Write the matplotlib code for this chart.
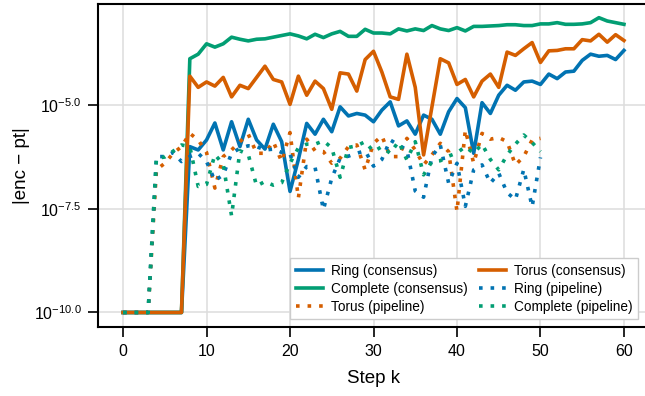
import matplotlib
matplotlib.use("Agg")
import matplotlib.pyplot as plt
import numpy as np

plt.rcParams["font.family"] = ["Liberation Sans", "DejaVu Sans"]
plt.rcParams["mathtext.default"] = "regular"

# ---------------------------------------------------------------
# values are log10 |enc - pt|
# ---------------------------------------------------------------
steps_cons = list(range(0, 61))
steps_pipe = list(range(0, 51))

ring_cons = [-10, -10, -10, -10, -10, -10, -10, -10,
             -6.00, -6.08, -5.84, -5.43, -6.08, -5.40, -6.00, -5.34, -5.84, -6.06,
             -5.46, -5.88, -7.08, -6.31, -5.44, -5.70, -5.34, -5.64, -5.04, -5.26,
             -5.20, -5.24, -5.40, -5.12, -4.92, -5.50, -5.38, -5.70, -5.24, -5.34,
             -5.70, -5.16, -4.84, -5.06, -6.16, -4.94, -5.20, -4.76, -4.52, -4.64,
             -4.44, -4.42, -4.50, -4.25, -4.36, -4.20, -4.18, -3.92, -3.77, -3.82,
             -3.80, -3.90, -3.68]
torus_cons = [-10, -10, -10, -10, -10, -10, -10, -10,
              -4.30, -4.57, -4.44, -4.54, -4.33, -4.80, -4.52, -4.60, -4.33, -4.06,
              -4.38, -4.44, -4.98, -4.30, -4.76, -4.42, -4.60, -5.10, -4.22, -4.25,
              -4.66, -3.90, -3.70, -4.20, -4.80, -4.86, -3.77, -4.57, -6.20, -5.04,
              -3.88, -3.98, -4.50, -4.38, -4.80, -4.42, -4.25, -4.57, -3.72, -3.80,
              -3.64, -3.49, -3.97, -3.69, -3.68, -3.64, -3.64, -3.42, -3.45, -3.29,
              -3.48, -3.30, -3.44]
complete_cons = [-10, -10, -10, -10, -10, -10, -10, -10,
                 -3.88, -3.77, -3.52, -3.60, -3.52, -3.36, -3.41, -3.45, -3.41, -3.40,
                 -3.36, -3.32, -3.28, -3.33, -3.40, -3.29, -3.37, -3.28, -3.22, -3.34,
                 -3.34, -3.17, -3.26, -3.26, -3.28, -3.16, -3.21, -3.16, -3.20, -3.08,
                 -3.16, -3.20, -3.13, -3.21, -3.10, -3.10, -3.09, -3.08, -3.06, -3.06,
                 -3.08, -3.08, -3.04, -3.04, -3.01, -3.05, -3.05, -3.04, -3.01, -2.89,
                 -2.97, -3.01, -3.05]

ring_pipe = [-10, -10, -10, -10,
             -6.24, -6.24, -6.14, -6.36, -6.24, -6.16, -6.36, -6.82, -6.68, -6.16,
             -6.04, -5.98, -6.00, -6.08, -6.06, -6.14, -6.18, -6.74, -6.48, -6.50,
             -7.52, -6.76, -6.28, -6.23, -6.16, -6.10, -6.47, -6.31, -5.84, -5.96,
             -6.08, -7.07, -7.22, -6.24, -5.96, -6.88, -6.40, -7.44, -6.56, -6.44,
             -6.88, -6.64, -7.11, -7.28, -6.55, -7.45, -6.26]
torus_pipe = [-10, -10, -10, -10,
              -6.56, -6.40, -6.16, -6.00, -5.68, -5.84, -6.14, -7.00, -6.24, -6.08,
              -5.88, -5.70, -6.16, -6.16, -5.88, -6.36, -5.66, -7.24, -5.82, -6.10,
              -6.12, -6.40, -6.28, -6.00, -5.96, -6.56, -5.92, -5.74, -6.24, -6.24,
              -5.80, -6.08, -6.44, -6.20, -5.92, -6.12, -7.56, -5.60, -6.40, -5.68,
              -5.82, -5.78, -5.88, -6.44, -6.24, -5.84, -5.80]
complete_pipe = [-10, -10, -10, -10,
                 -6.28, -6.25, -6.11, -5.96, -6.00, -6.96, -6.91, -6.19, -6.43, -7.67,
                 -6.10, -6.19, -6.95, -6.84, -6.93, -6.87, -6.40, -6.03, -5.94, -5.94,
                 -5.86, -6.03, -6.74, -6.02, -5.98, -5.88, -6.12, -6.00, -6.16, -5.88,
                 -6.32, -5.88, -6.68, -6.36, -6.34, -6.23, -6.15, -6.00, -6.16, -5.94,
                 -6.31, -6.56, -6.20, -5.94, -5.72, -5.90, -6.12]

ytick_exp = [-10.0, -7.5, -5.0]

BLUE, GREEN, ORANGE = "#0173b2", "#029e73", "#d55e00"
DOT = (0, (1, 2.2))

fig = plt.figure(figsize=(6.45, 3.96), dpi=100)
ax = fig.add_axes([98 / 645, 69 / 396, 551 / 645, 323 / 396])

def pw(v):
    return 10.0 ** np.array(v)

LW = 2.6
ax.plot(steps_cons, pw(ring_cons), color=BLUE, lw=LW, label="Ring (consensus)")
ax.plot(steps_cons, pw(complete_cons), color=GREEN, lw=LW, label="Complete (consensus)")
ax.plot(steps_pipe, pw(torus_pipe), color=ORANGE, lw=LW, ls=DOT, label="Torus (pipeline)")
ax.plot(steps_cons, pw(torus_cons), color=ORANGE, lw=LW, label="Torus (consensus)")
ax.plot(steps_pipe, pw(ring_pipe), color=BLUE, lw=LW, ls=DOT, label="Ring (pipeline)")
ax.plot(steps_pipe, pw(complete_pipe), color=GREEN, lw=LW, ls=DOT, label="Complete (pipeline)")

ax.set_yscale("log")
ax.set_xlim(-3, 63)
ax.set_ylim(10 ** -10.35, 10 ** -2.56)
ax.set_yticks(pw(ytick_exp))
ax.set_yticklabels([rf"$10^{{{e:.1f}}}$".replace("-", "\u2212") for e in ytick_exp])
ax.yaxis.set_minor_locator(matplotlib.ticker.NullLocator())
ax.set_xticks([0, 10, 20, 30, 40, 50, 60])

ax.grid(True, color="#dddddd", lw=1.1)
ax.set_axisbelow(True)
for s in ax.spines.values():
    s.set_linewidth(1.5)
ax.tick_params(direction="out", length=7, width=1.2, labelsize=11.5, pad=5)

ax.set_xlabel("Step k", fontsize=13.5, labelpad=8)
ax.set_ylabel("|enc \u2212 pt|", fontsize=13.5, labelpad=2.5)

ax.legend(ncol=2, loc="lower right", fontsize=9.8, fancybox=False,
          edgecolor="#cccccc", framealpha=1, handlelength=2.0,
          borderpad=0.4, labelspacing=0.3, columnspacing=0.8,
          handletextpad=0.6, bbox_to_anchor=(1.0, -0.01), borderaxespad=0.8)

fig.savefig("out.png", dpi=100)
